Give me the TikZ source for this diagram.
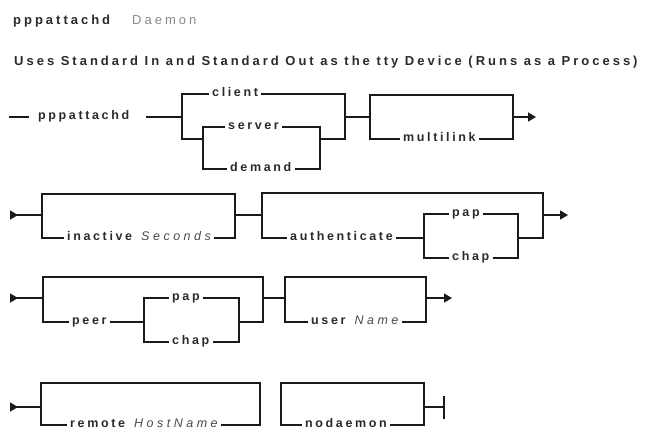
\documentclass[tikz,border=0pt]{standalone}
\usepackage{fontspec}
\setmainfont{Liberation Sans}
\newfontfamily\lab[LetterSpace=21]{Liberation Sans}
\newfontfamily\labi[LetterSpace=28]{Liberation Sans}
\newfontfamily\ttlf[LetterSpace=23]{Liberation Sans}
\usetikzlibrary{arrows.meta}
\definecolor{lc}{HTML}{1A1A1A}
\definecolor{tc}{HTML}{2A2A2A}
\definecolor{ic}{HTML}{4A4A4A}
\definecolor{gc}{HTML}{8A8A8A}
\newcommand{\labfont}{\lab\bfseries\fontsize{12.5bp}{15bp}\selectfont}
\newcommand{\ttlfont}{\ttlf\bfseries\fontsize{13bp}{15bp}\selectfont}
\newcommand{\itl}[1]{\hspace{3bp}{\labi\mdseries\itshape\color{ic}#1}}
\tikzset{
  rr/.style={draw=lc, line width=1.6bp, line cap=rect},
  topl/.style={draw=lc, line width=2.8bp, line cap=rect},
  lbl/.style={inner xsep=4bp, inner ysep=0pt, anchor=mid west, text=tc, font=\labfont},
  ttl/.style={inner sep=0pt, anchor=base west, text=tc, font=\ttlfont},
  starttip/.style={{Triangle[reversed,length=8bp,width=9bp]}-},
  endtip/.style={-{Triangle[length=8bp,width=9bp]}},
}
\begin{document}
\begin{tikzpicture}[x=1bp,y=-1bp]
\useasboundingbox (0,0) rectangle (645,431);
% titles
\node[ttl] (t1) at (13,24) {pppattachd};
\node[ttl, text=gc, font=\ttlf\mdseries\fontsize{13bp}{15bp}\selectfont] (t2) at (132,24) {Daemon};
\node[ttl] (t3) at (14,65) {Uses Standard In and Standard Out as the tty Device (Runs as a Process)};
% ---------- row 1
\node[lbl, inner xsep=10bp] (cmd) at (28,117) {pppattachd};
\draw[rr] (10,117) -- (cmd.mid west);
\draw[rr] ([xshift=7bp]cmd.mid east) -- (182,117);
\draw[rr] (182,94) -- (182,139);
\node[lbl] (client) at (208,94) {client};
\draw[rr] (182,94) -- (client.mid west);
\draw[rr] (client.mid east) -- (345,94) -- (345,139);
\draw[rr] (182,139) -- (203,139);
\draw[rr] (203,127) -- (203,169);
\node[lbl] (server) at (224,127) {server};
\draw[rr] (203,127) -- (server.mid west);
\draw[rr] (server.mid east) -- (320,127) -- (320,169);
\node[lbl] (demand) at (226,169) {demand};
\draw[rr] (203,169) -- (demand.mid west);
\draw[rr] (demand.mid east) -- (320,169);
\draw[rr] (320,139) -- (345,139);
\draw[rr] (345,117) -- (370,117);
\draw[rr] (370,139) |- (513,95) -- (513,139);
\draw[topl] (370,95) -- (513,95);
\node[lbl] (ml) at (399,139) {multilink};
\draw[rr] (370,139) -- (ml.mid west);
\draw[rr] (ml.mid east) -- (513,139);
\draw[rr, endtip] (513,117) -- (536,117);
% ---------- row 2
\draw[rr, starttip] (10,215) -- (42,215);
\draw[rr] (42,238) |- (235,194) -- (235,238);
\draw[topl] (42,194) -- (235,194);
\node[lbl] (inact) at (63,238) {inactive \itl{Seconds}};
\draw[rr] (42,238) -- (inact.mid west);
\draw[rr] (inact.mid east) -- (235,238);
\draw[rr] (235,215) -- (262,215);
\draw[rr] (262,238) |- (543,193) -- (543,238);
\draw[topl] (262,193) -- (543,193);
\node[lbl] (auth) at (286,238) {authenticate};
\draw[rr] (262,238) -- (auth.mid west);
\draw[rr] (auth.mid east) -- (424,238);
\draw[rr] (424,214) -- (424,258);
\node[lbl] (pap1) at (448,214) {pap};
\draw[rr] (424,214) -- (pap1.mid west);
\draw[rr] (pap1.mid east) -- (518,214) -- (518,258);
\node[lbl] (chap1) at (448,258) {chap};
\draw[rr] (424,258) -- (chap1.mid west);
\draw[rr] (chap1.mid east) -- (518,258);
\draw[rr] (518,238) -- (543,238);
\draw[rr, endtip] (543,215) -- (568,215);
% ---------- row 3
\draw[rr, starttip] (10,298) -- (43,298);
\draw[rr] (43,322) |- (263,277) -- (263,322);
\draw[topl] (43,277) -- (263,277);
\node[lbl] (peer) at (68,322) {peer};
\draw[rr] (43,322) -- (peer.mid west);
\draw[rr] (peer.mid east) -- (144,322);
\draw[rr] (144,298) -- (144,342);
\node[lbl] (pap2) at (168,298) {pap};
\draw[rr] (144,298) -- (pap2.mid west);
\draw[rr] (pap2.mid east) -- (239,298) -- (239,342);
\node[lbl] (chap2) at (168,342) {chap};
\draw[rr] (144,342) -- (chap2.mid west);
\draw[rr] (chap2.mid east) -- (239,342);
\draw[rr] (239,322) -- (263,322);
\draw[rr] (263,298) -- (285,298);
\draw[rr] (285,322) |- (426,277) -- (426,322);
\draw[topl] (285,277) -- (426,277);
\node[lbl] (user) at (307,322) {user \itl{Name}};
\draw[rr] (285,322) -- (user.mid west);
\draw[rr] (user.mid east) -- (426,322);
\draw[rr, endtip] (426,298) -- (452,298);
% ---------- row 4
\draw[rr, starttip] (10,407) -- (41,407);
\draw[rr] (41,425) |- (260,383) -- (260,425);
\draw[topl] (41,383) -- (260,383);
\node[lbl] (remote) at (66,425) {remote \itl{HostName}};
\draw[rr] (41,425) -- (remote.mid west);
\draw[rr] (remote.mid east) -- (260,425);
\draw[rr] (281,425) |- (424,383) -- (424,425);
\draw[topl] (281,383) -- (424,383);
\node[lbl] (nod) at (301,425) {nodaemon};
\draw[rr] (281,425) -- (nod.mid west);
\draw[rr] (nod.mid east) -- (424,425);
\draw[rr] (424,407) -- (444,407);
\draw[rr] (444,397) -- (444,418);
\end{tikzpicture}
\end{document}
